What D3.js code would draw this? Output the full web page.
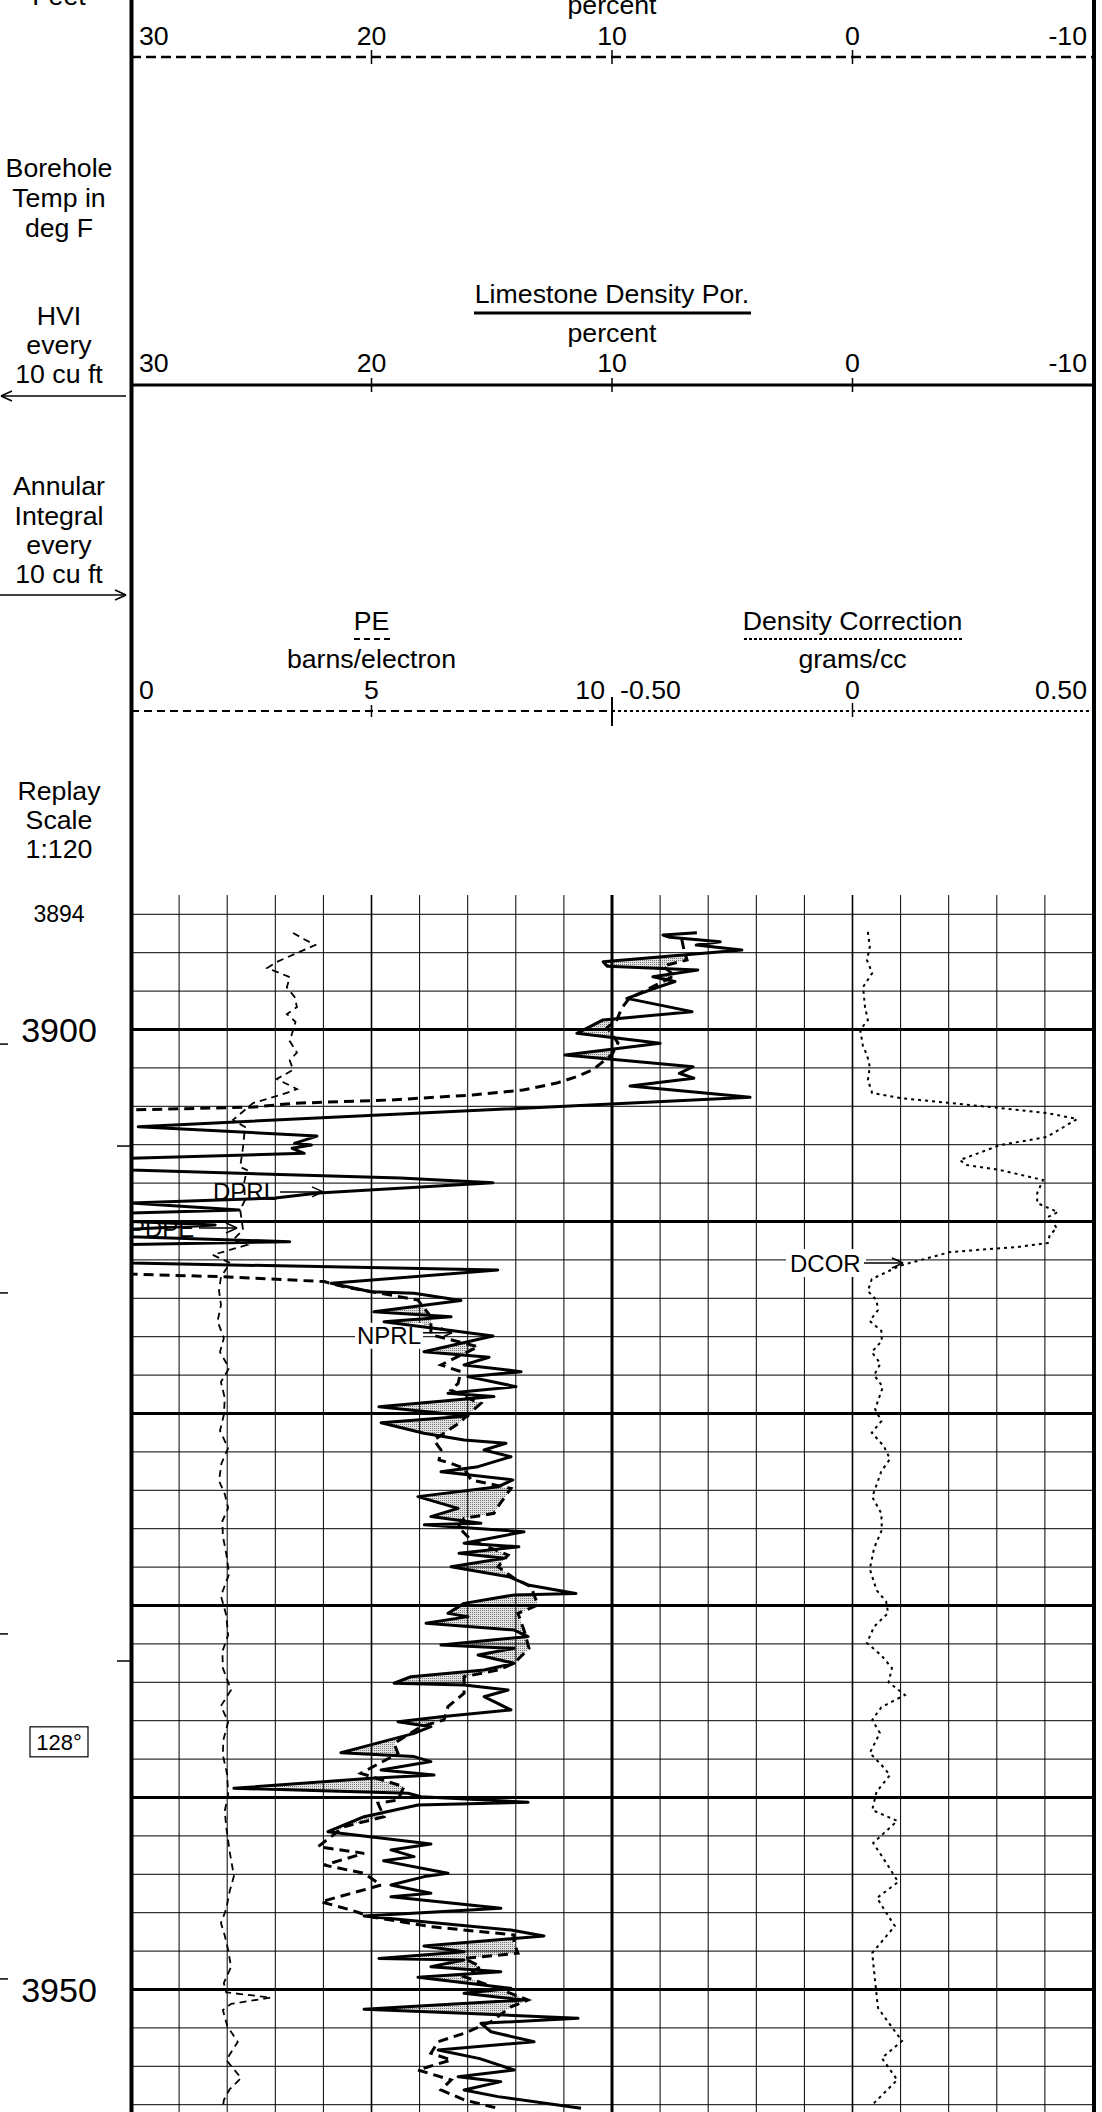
<!DOCTYPE html>
<html>
<head>
<meta charset="utf-8">
<script src="https://cdn.jsdelivr.net/npm/d3@7"></script>
<style>
  html, body { margin: 0; padding: 0; background: #fff; }
  svg { display: block; font-family: "Liberation Sans", Arial, Helvetica, sans-serif; }
</style>
</head>
<body>
<svg id="log" width="1102" height="2112"></svg>
<script>
// ---- scale labels ----
const porosityTicks = [30, 20, 10, 0, -10];
const peTicks = [0, 5, 10];
const dcorTicks = [-0.5, 0, 0.5];
const dcorTickText = ["-0.50", "0", "0.50"];
const depthLabelSmall = [3894];
const depthLabelBig = [3900, 3950];
const hviTickDepths = [3900.76, 3913.72, 3931.48, 3949.45];
const annularTickDepths = [3906.07, 3932.89];
const boreholeTemp = { depth: 3937.1, text: "128°" };

// ---- curves: [depth ft, value] ----
// Limestone density porosity (percent)
const dprl = [
  [3894.96, 6.47], [3895.08, 7.88], [3895.2, 7.6], [3895.43, 5.5], [3895.6, 6.5], [3895.86, 4.6],
  [3896.47, 10.37], [3896.7, 10.2], [3896.9, 6.43], [3897.25, 8.3], [3897.5, 7.38], [3897.8, 8.1],
  [3898.38, 9.38], [3899.07, 6.67], [3899.5, 10.37], [3900.2, 11.46], [3900.72, 8.0], [3901.33, 11.95],
  [3901.94, 6.63], [3902.28, 7.2], [3902.54, 6.6], [3902.94, 9.25], [3903.53, 4.26], [3905.06, 29.7],
  [3905.55, 22.27], [3905.93, 23.2], [3906.02, 22.5], [3906.19, 23.3], [3906.45, 22.8], [3906.71, 30],
  [3907.32, 30], [3907.73, 18.8], [3907.98, 14.95], [3908.52, 22.2], [3908.78, 24.0], [3909.04, 30],
  [3909.4, 25.5], [3909.56, 30], [3910.0, 30], [3910.18, 26.5], [3910.4, 30], [3910.8, 30],
  [3911.05, 23.4], [3911.2, 30], [3912.16, 30], [3912.53, 14.75], [3913.22, 21.68], [3913.66, 20.02],
  [3913.74, 18.23], [3914.12, 16.28], [3914.7, 19.9], [3914.96, 16.69], [3915.22, 19.48], [3915.96, 14.95],
  [3916.78, 17.82], [3917.07, 15.11], [3917.47, 16.15], [3917.82, 13.78], [3918.08, 15.99], [3918.6, 13.99],
  [3918.95, 16.82], [3919.12, 14.91], [3919.65, 19.69], [3920.13, 15.99], [3920.48, 19.6], [3921.03, 17.82],
  [3921.38, 16.15], [3921.55, 14.41], [3921.9, 15.32], [3922.25, 14.2], [3922.77, 15.57], [3923.03, 17.11],
  [3923.46, 14.12], [3923.81, 14.74], [3924.33, 18.07], [3924.94, 16.4], [3925.37, 17.53], [3925.72, 15.45],
  [3925.8, 17.8], [3926.16, 13.66], [3926.76, 16.15], [3926.94, 13.87], [3927.28, 16.36], [3927.54, 14.49],
  [3927.98, 16.69], [3928.5, 14.3], [3928.93, 13.49], [3929.37, 11.5], [3929.45, 14.07], [3929.89, 16.15],
  [3930.41, 16.82], [3930.58, 15.99], [3930.93, 17.73], [3931.28, 14.07], [3931.62, 13.49], [3932.06, 17.11],
  [3932.23, 14.07], [3932.58, 15.57], [3933.01, 14.07], [3933.36, 15.32], [3933.71, 18.36], [3934.05, 19.06],
  [3934.14, 16.15], [3934.4, 14.32], [3934.75, 15.32], [3935.44, 14.2], [3935.79, 17.11], [3936.05, 18.9],
  [3936.31, 17.53], [3936.66, 18.23], [3937.35, 20.31], [3937.67, 21.27], [3937.87, 18.23], [3938.13, 17.53],
  [3938.57, 19.6], [3938.83, 17.4], [3939.0, 20.02], [3939.52, 25.72], [3939.78, 18.48], [3939.96, 17.94],
  [3940.25, 13.49], [3940.39, 18.07], [3941.0, 20.31], [3941.78, 21.81], [3942.42, 17.53], [3942.73, 19.19],
  [3943.08, 18.23], [3943.3, 19.5], [3943.95, 16.82], [3944.12, 17.8], [3944.56, 19.19], [3944.99, 17.53],
  [3945.17, 19.19], [3945.77, 14.62], [3946.17, 20.31], [3946.9, 14.2], [3947.21, 12.83], [3947.73, 17.82],
  [3948.03, 16.15], [3948.38, 19.69], [3948.46, 16.15], [3948.81, 17.53], [3949.07, 14.62], [3949.36, 18.07],
  [3949.94, 14.2], [3950.2, 16.15], [3950.55, 13.66], [3951.03, 20.31], [3951.24, 16.15], [3951.5, 11.41],
  [3951.76, 15.45], [3952.2, 15.03], [3952.72, 13.24], [3953.15, 17.23], [3953.6, 15.5], [3954.19, 14.07],
  [3954.54, 16.4], [3954.8, 14.62], [3955.23, 16.15], [3955.58, 14.74], [3956.19, 11.29]
];

// Limestone neutron porosity (percent)
const nprl = [
  [3895.3, 7.1], [3895.9, 7.0], [3896.38, 6.88], [3896.69, 7.88], [3897.2, 7.4], [3897.7, 8.2],
  [3898.4, 9.3], [3898.9, 9.6], [3899.5, 9.8], [3899.9, 10.2], [3900.7, 9.75], [3901.3, 10.0],
  [3901.8, 10.5], [3902.1, 10.8], [3902.47, 11.5], [3902.79, 12.3], [3903.15, 13.7], [3903.41, 15.8],
  [3903.57, 17.9], [3903.67, 19.2], [3903.84, 23.2], [3904.04, 24.9], [3904.19, 30], [3912.74, 30],
  [3912.87, 26.38], [3913.13, 21.97], [3913.4, 21.14], [3913.74, 19.6], [3914.09, 18.07], [3914.5, 17.82],
  [3914.96, 17.53], [3915.9, 17.53], [3916.52, 15.57], [3917.47, 17.11], [3917.82, 16.28], [3918.43, 16.4],
  [3918.78, 16.69], [3919.12, 16.15], [3919.47, 15.45], [3920.25, 16.15], [3920.43, 16.28], [3921.38, 17.4],
  [3921.9, 17.11], [3922.42, 17.19], [3922.6, 16.69], [3922.85, 16.15], [3923.46, 15.86], [3923.9, 14.2],
  [3924.85, 14.74], [3925.2, 14.91], [3925.46, 16.15], [3925.9, 16.4], [3926.59, 15.86], [3927.37, 14.32],
  [3927.98, 14.74], [3928.58, 14.07], [3929.02, 13.37], [3929.97, 13.08], [3930.41, 13.91], [3931.28, 13.66],
  [3932.23, 13.45], [3933.01, 14.07], [3933.36, 14.74], [3933.71, 16.15], [3934.57, 16.15], [3935.27, 16.82],
  [3935.96, 16.99], [3936.31, 17.94], [3937.18, 19.06], [3937.7, 18.9], [3938.74, 20.44], [3939.44, 18.65],
  [3940.13, 18.9], [3940.3, 19.73], [3941.0, 19.48], [3941.52, 21.14], [3942.56, 22.22], [3942.91, 20.31],
  [3943.52, 21.97], [3943.95, 20.31], [3944.56, 19.6], [3945.43, 22.1], [3945.86, 20.85], [3946.21, 20.02],
  [3946.73, 17.53], [3947.16, 14.07], [3947.6, 14.07], [3948.11, 13.91], [3948.38, 16.15], [3948.81, 15.45],
  [3949.33, 16.15], [3949.94, 14.74], [3950.55, 13.49], [3950.9, 14.2], [3951.68, 15.03], [3952.28, 16.15],
  [3952.72, 17.23], [3953.32, 17.53], [3953.67, 16.69], [3954.19, 18.07], [3954.71, 16.69], [3955.23, 17.11],
  [3955.75, 16.15], [3956.19, 14.74]
];

// Photoelectric factor (barns/electron)
const pdpe = [
  [3894.97, 3.37], [3895.3, 3.6], [3895.6, 3.83], [3896.48, 3.03], [3896.8, 2.83], [3897.27, 3.3],
  [3897.8, 3.24], [3898.3, 3.4], [3898.83, 3.45], [3899.2, 3.24], [3899.6, 3.42], [3900.03, 3.37],
  [3900.6, 3.3], [3901.2, 3.45], [3901.6, 3.3], [3902.1, 3.37], [3902.58, 3.03], [3903.1, 3.45],
  [3903.3, 3.24], [3903.83, 2.54], [3904.71, 2.12], [3905.08, 2.37], [3906.12, 2.33], [3907.16, 2.27],
  [3907.32, 2.41], [3908.0, 2.35], [3908.88, 2.37], [3909.4, 2.27], [3910.44, 2.33], [3910.96, 2.12],
  [3911.22, 2.41], [3911.74, 1.7], [3912.16, 2.06], [3912.89, 1.87], [3913.6, 1.83], [3914.35, 1.87],
  [3915.2, 1.8], [3916.07, 1.93], [3916.8, 1.85], [3917.63, 2.04], [3918.36, 1.87], [3919.2, 1.95],
  [3920.08, 1.93], [3920.9, 1.85], [3921.8, 2.02], [3922.6, 1.88], [3923.51, 1.83], [3924.2, 1.95],
  [3924.92, 2.02], [3925.6, 1.9], [3926.38, 1.91], [3927.3, 1.98], [3928.36, 2.04], [3929.5, 1.87],
  [3930.5, 1.98], [3931.54, 2.02], [3932.4, 1.9], [3933.26, 1.91], [3934.4, 2.08], [3935.23, 1.87],
  [3936.07, 2.02], [3937.0, 1.92], [3937.79, 1.91], [3938.8, 2.0], [3939.82, 2.02], [3940.7, 1.95],
  [3941.54, 1.98], [3942.8, 2.05], [3944.09, 2.14], [3944.9, 2.05], [3945.81, 1.98], [3946.54, 1.87],
  [3947.2, 1.95], [3947.94, 2.02], [3948.83, 2.08], [3949.66, 1.93], [3950.15, 1.98], [3950.42, 2.91],
  [3950.75, 2.08], [3951.07, 1.91], [3951.9, 2.0], [3952.73, 2.22], [3953.67, 1.98], [3954.61, 2.29],
  [3955.2, 2.05], [3955.76, 1.93], [3956.17, 1.91]
];

// Density correction (grams/cc)
const dcor = [
  [3894.92, 0.032], [3895.7, 0.036], [3896.38, 0.030], [3897.06, 0.041], [3897.79, 0.022], [3898.83, 0.026],
  [3899.5, 0.032], [3900.03, 0.016], [3900.91, 0.022], [3901.3, 0.03], [3901.95, 0.036], [3902.63, 0.032],
  [3903.31, 0.041], [3903.57, 0.099], [3903.83, 0.203], [3904.09, 0.307], [3904.35, 0.404], [3904.66, 0.467],
  [3905.6, 0.404], [3906.02, 0.307], [3906.8, 0.223], [3907.06, 0.238], [3907.32, 0.307], [3907.84, 0.396],
  [3908.52, 0.384], [3909.04, 0.384], [3909.51, 0.427], [3909.77, 0.406], [3910.34, 0.425], [3910.7, 0.41],
  [3911.12, 0.406], [3911.33, 0.342], [3911.59, 0.203], [3912.3, 0.099], [3913.0, 0.04], [3913.62, 0.032],
  [3914.1, 0.05], [3914.61, 0.053], [3915.18, 0.036], [3915.7, 0.06], [3916.22, 0.061], [3916.8, 0.04],
  [3917.4, 0.058], [3918.0, 0.045], [3918.62, 0.063], [3919.2, 0.055], [3919.77, 0.047], [3920.4, 0.06],
  [3921.0, 0.04], [3921.7, 0.065], [3922.37, 0.078], [3923.0, 0.06], [3923.51, 0.053], [3924.35, 0.041],
  [3925.2, 0.06], [3926.07, 0.061], [3927.0, 0.045], [3928.1, 0.036], [3929.2, 0.05], [3929.8, 0.07],
  [3930.39, 0.074], [3931.1, 0.045], [3931.95, 0.030], [3932.6, 0.06], [3933.26, 0.082], [3934.0, 0.075],
  [3934.66, 0.109], [3935.3, 0.06], [3935.96, 0.041], [3936.64, 0.057], [3937.68, 0.036], [3938.3, 0.06],
  [3938.83, 0.078], [3939.7, 0.05], [3940.65, 0.041], [3941.22, 0.093], [3942.37, 0.043], [3943.4, 0.07],
  [3944.4, 0.095], [3945.23, 0.051], [3946.0, 0.07], [3946.69, 0.088], [3948.1, 0.041], [3949.56, 0.047],
  [3950.96, 0.053], [3951.9, 0.08], [3952.68, 0.103], [3953.57, 0.061], [3954.71, 0.093], [3955.96, 0.043]
];

// ---- geometry ----
const W = 1102, H = 2112;
const trackL = 131, trackR = 1093, trackMid = 612;
const gridTopDepth = 3893, gridBottomDepth = 3956.6;

const x = d3.scaleLinear().domain([30, -10]).range([trackL, trackR]);
const xPE = d3.scaleLinear().domain([0, 10]).range([trackL, trackMid]);
const xDC = d3.scaleLinear().domain([-0.5, 0.5]).range([trackMid, trackR]);
const y = d3.scaleLinear().domain([3900, 3950]).range([1029.5, 1989.5]);

const svg = d3.select("#log");
svg.append("rect").attr("width", W).attr("height", H).attr("fill", "#fff");

const defs = svg.append("defs");
const pat = defs.append("pattern").attr("id", "stipple")
  .attr("width", 2).attr("height", 2).attr("patternUnits", "userSpaceOnUse");
pat.append("rect").attr("width", 2).attr("height", 2).attr("fill", "#e2e2e2");
pat.append("rect").attr("width", 1).attr("height", 1).attr("fill", "#777");
defs.append("clipPath").attr("id", "trackClip").append("rect")
  .attr("x", trackL).attr("y", y(gridTopDepth))
  .attr("width", trackR - trackL).attr("height", H - y(gridTopDepth));

function line(g, x1, y1, x2, y2, w, dash) {
  const l = g.append("line").attr("x1", x1).attr("y1", y1).attr("x2", x2).attr("y2", y2)
    .attr("stroke", "#000").attr("stroke-width", w);
  if (dash) l.attr("stroke-dasharray", dash);
  return l;
}
function text(g, tx, ty, s, size, anchor) {
  return g.append("text").attr("x", tx).attr("y", ty).attr("font-size", size)
    .attr("text-anchor", anchor || "middle").attr("fill", "#000").text(s);
}
function arrow(g, x1, y1, x2, w) {
  line(g, x1, y1, x2, y1, w);
  const dir = x2 > x1 ? 1 : -1;
  line(g, x2, y1, x2 - dir * 11, y1 - 5, w);
  line(g, x2, y1, x2 - dir * 11, y1 + 5, w);
}

// ---- header ----
const head = svg.append("g");
const F = 26.7;
// left column captions
const leftCol = 59;
[["Feet", 5], ["Borehole", 177], ["Temp in", 207], ["deg F", 237],
 ["HVI", 325], ["every", 354], ["10 cu ft", 383],
 ["Annular", 495], ["Integral", 525], ["every", 554], ["10 cu ft", 583],
 ["Replay", 800], ["Scale", 829], ["1:120", 858]]
  .forEach(([s, ty]) => text(head, leftCol, ty, s, F));
arrow(head, 126, 396, 1, 1.5);
arrow(head, 0, 595, 126, 1.5);

// scale row 1 (neutron porosity, dashed)
text(head, x(10), 14, "percent", F);
function porLabels(ty) {
  porosityTicks.forEach((v, i) => {
    const anchor = i === 0 ? "start" : (i === porosityTicks.length - 1 ? "end" : "middle");
    const dx = i === 0 ? 8 : (i === porosityTicks.length - 1 ? -6 : 0);
    text(head, x(v) + dx, ty, String(v), F, anchor);
  });
}
porLabels(45);
line(head, trackL, 57, trackR, 57, 2.5, "10,5");
[20, 10, 0].forEach(v => line(head, x(v), 50, x(v), 64, 1.5));

// scale row 2 (density porosity, solid)
text(head, x(10), 303, "Limestone Density Por.", F);
line(head, 474, 313, 751, 313, 3);
text(head, x(10), 342, "percent", F);
porLabels(372);
line(head, trackL, 385, trackR, 385, 3);
[20, 10, 0].forEach(v => line(head, x(v), 378, x(v), 392, 1.5));

// scale row 3 (PE dashed left, density correction dotted right)
text(head, xPE(5), 630, "PE", F);
line(head, 354, 639, 390, 639, 2, "6,4");
text(head, xPE(5), 668, "barns/electron", F);
text(head, xDC(0), 630, "Density Correction", F);
line(head, 744, 639, 963, 639, 2, "3,2");
text(head, xDC(0), 668, "grams/cc", F);
peTicks.forEach((v, i) => {
  const anchor = i === 0 ? "start" : (i === peTicks.length - 1 ? "end" : "middle");
  const dx = i === 0 ? 8 : (i === peTicks.length - 1 ? -7 : 0);
  text(head, xPE(v) + dx, 699, String(v), F, anchor);
});
dcorTicks.forEach((v, i) => {
  const anchor = i === 0 ? "start" : (i === dcorTicks.length - 1 ? "end" : "middle");
  const dx = i === 0 ? 8 : (i === dcorTicks.length - 1 ? -6 : 0);
  text(head, xDC(v) + dx, 699, dcorTickText[i], F, anchor);
});
line(head, trackL, 711, trackMid, 711, 2, "8,5");
line(head, trackMid, 711, trackR, 711, 2, "3,3");
line(head, xPE(5), 705, xPE(5), 717, 1.5);
line(head, trackMid, 697, trackMid, 726, 2);
line(head, xDC(0), 703, xDC(0), 717, 1.5);

// ---- depth track annotations ----
const depthG = svg.append("g");
depthLabelSmall.forEach(d => text(depthG, leftCol, y(d) + 8, String(d), 23));
depthLabelBig.forEach(d => text(depthG, leftCol, y(d) + 12, String(d), 34));
hviTickDepths.forEach(d => line(depthG, 0, y(d), 8, y(d), 1.5));
annularTickDepths.forEach(d => line(depthG, 117, y(d), trackL, y(d), 1.5));
const ty = y(boreholeTemp.depth);
depthG.append("rect").attr("x", 30).attr("y", ty - 15).attr("width", 58).attr("height", 30)
  .attr("fill", "#fff").attr("stroke", "#000").attr("stroke-width", 1.2);
text(depthG, leftCol, ty + 8, boreholeTemp.text, 22);

// ---- crossover shading (density porosity > neutron porosity) ----
function interp(pts, d) {
  if (d < pts[0][0] || d > pts[pts.length - 1][0]) return null;
  const i = d3.bisector(p => p[0]).left(pts, d);
  if (i === 0) return pts[0][1];
  const a = pts[i - 1], b = pts[i];
  const t = (d - a[0]) / (b[0] - a[0] || 1);
  return a[1] + t * (b[1] - a[1]);
}
const fineDepths = d3.range(gridTopDepth, gridBottomDepth, 0.04);
const cross = fineDepths.map(d => ({ d, dp: interp(dprl, d), np: interp(nprl, d) }));
const area = d3.area()
  .defined(p => p.dp !== null && p.np !== null)
  .y(p => y(p.d))
  .x0(p => x(p.dp))
  .x1(p => x(Math.min(p.np, p.dp)));
svg.append("path").datum(cross).attr("clip-path", "url(#trackClip)")
  .attr("d", area).attr("fill", "url(#stipple)");

// ---- grid ----
const grid = svg.append("g");
const gy0 = y(gridTopDepth);
d3.range(30, -10.001, -2).forEach(v => {
  if (v === 30 || v === -10) return;
  const w = v === 10 ? 3 : (v === 20 || v === 0 ? 1.6 : 1);
  line(grid, x(v), gy0, x(v), H, w);
});
d3.range(3894, gridBottomDepth, 2).forEach(d => {
  line(grid, trackL, y(d), trackR, y(d), d % 10 === 0 ? 3 : 1);
});

// track borders
line(svg, trackL + 0.5, 0, trackL + 0.5, H, 4);
line(svg, trackR + 1, 0, trackR + 1, H, 4);

// ---- label backgrounds (under the curves) ----
const labBg = svg.append("g");
labBg.append("rect").attr("x", 786).attr("y", y(3912.16) - 14).attr("width", 80).attr("height", 28).attr("fill", "#fff");
labBg.append("rect").attr("x", 355).attr("y", y(3915.9) - 12).attr("width", 68).attr("height", 26).attr("fill", "#fff");

// ---- curves ----
const curves = svg.append("g").attr("clip-path", "url(#trackClip)");
const depthLine = xs => d3.line().x(p => xs(p[1])).y(p => y(p[0]));
curves.append("path").datum(pdpe).attr("d", depthLine(xPE)).attr("fill", "none")
  .attr("stroke", "#000").attr("stroke-width", 1.8).attr("stroke-dasharray", "7,5");
curves.append("path").datum(dcor).attr("d", depthLine(xDC)).attr("fill", "none")
  .attr("stroke", "#000").attr("stroke-width", 2).attr("stroke-dasharray", "3,4");
curves.append("path").datum(nprl).attr("d", depthLine(x)).attr("fill", "none")
  .attr("stroke", "#000").attr("stroke-width", 3).attr("stroke-dasharray", "10,6");
curves.append("path").datum(dprl).attr("d", depthLine(x)).attr("fill", "none")
  .attr("stroke", "#000").attr("stroke-width", 3).attr("stroke-linejoin", "round");

// ---- curve labels (on top) ----
const lab = svg.append("g");
text(lab, 213, y(3908.46) + 8.5, "DPRL", 24, "start");
arrow(lab, 280, y(3908.46), 323, 1.5);
text(lab, 129, y(3910.34) + 8.5, "PDPE", 24, "start");
arrow(lab, 199, y(3910.34), 237, 1.5);
text(lab, 357, y(3915.9) + 9, "NPRL", 24, "start");
arrow(lab, 423, y(3915.9) - 2, 452, 1.5);
text(lab, 790, y(3912.16) + 9, "DCOR", 24, "start");
arrow(lab, 864, y(3912.16), 903, 1.5);
</script>
</body>
</html>
